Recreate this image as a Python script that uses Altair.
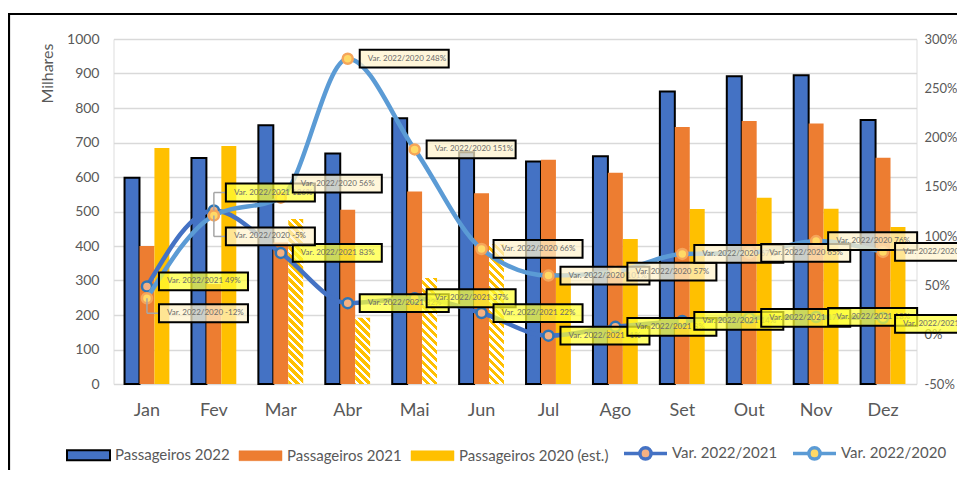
import math
import altair as alt

# ---------------- data ----------------
months = ["Jan", "Fev", "Mar", "Abr", "Mai", "Jun", "Jul", "Ago", "Set", "Out", "Nov", "Dez"]
pax_2022 = [598, 655, 750, 668, 770, 672, 645, 660, 848, 892, 895, 765]
pax_2021 = [400, 290, 410, 505, 558, 553, 650, 612, 745, 762, 755, 656]
pax_2020 = [684, 690, 478, 192, 307, 405, 321, 420, 507, 540, 508, 455]
est_2020 = [False, False, True, True, True, True, False, False, False, False, False, False]
var_22_21 = [0.49, 1.26, 0.83, 0.32, 0.37, 0.22, -0.01, 0.08, 0.14, 0.17, 0.18, 0.17]
var_22_20_plot = [0.37, 1.21, 1.39, 2.80, 1.88, 0.87, 0.60, 0.64, 0.82, 0.83, 0.95, 0.84]
var_22_20_label = [-12, -5, 56, 248, 151, 66, 101, 57, 67, 65, 76, 68]
series_names = ["Passageiros 2022", "Passageiros 2021", "Passageiros 2020 (est.)",
                "Var. 2022/2021", "Var. 2022/2020"]
left_ticks = list(range(0, 1001, 100))
right_ticks = [-0.5, 0.0, 0.5, 1.0, 1.5, 2.0, 2.5, 3.0]

# ---------------- layout / style ----------------
FONT = "Lato"
GRAY = "#595959"
W, H = 803, 345
PAD = {"left": 105.5, "top": 31, "right": 40.5, "bottom": 86}
BLUE, ORANGE, YELLOW, LBLUE = "#4472C4", "#ED7D31", "#FFC000", "#5B9BD5"
PX_PER_UNIT_RIGHT = H / 3.5
PX_PER_UNIT_LEFT = H / 1000.0
lab_dy_21 = [-5, -18, 0, 0, 0, 0, 0, 0, 0, 0, 0, 6]
lab_dy_20 = [15, 21, -14, 0, 0, 0, 0, 0, 0, 0, 0, 0]
leaders = [("Jan", "20"), ("Fev", "21"), ("Fev", "20")]

BOX_PATH = "M0.27,-0.2H2.27V0.2H0.27Z"
BOX_SIZE = 89 ** 2
LEAD_PATH = "M0,0H0.27"

x_scale = alt.Scale(domain=months, paddingInner=0.33, paddingOuter=0.165)
x_axis = alt.Axis(title=None, labelFont=FONT, labelFontSize=18, labelColor=GRAY,
                  labelPadding=17, ticks=False, domain=False, labelAngle=0)
X = alt.X("month:N", scale=x_scale, axis=x_axis)

left_scale = alt.Scale(domain=[0, 1000], nice=False, zero=False)
left_axis = alt.Axis(title="Milhares", titleFont=FONT, titleFontSize=16, titleFontWeight="normal",
                     titleColor=GRAY, titleAngle=270, titleAlign="right", titleBaseline="bottom",
                     titleX=-58, titleY=4, values=left_ticks, format="d",
                     labelFont=FONT, labelFontSize=14, labelColor=GRAY, labelPadding=14.5,
                     ticks=False, domain=False, grid=True, gridColor="#D9D9D9", gridWidth=1.3)
right_scale = alt.Scale(domain=[-0.5, 3.0], nice=False, zero=False)
right_axis = alt.Axis(title=None, orient="right", values=right_ticks,
                      labelExpr="round(datum.value*100) + '%'",
                      labelFont=FONT, labelFontSize=13, labelColor=GRAY, labelPadding=7.5,
                      ticks=False, domain=False, grid=False)


def hatch(value):
    w = W / 12 * (1 - 0.33) / 3
    h = value * PX_PER_UNIT_LEFT
    s = (w + h) * h / (h * h + w * w)
    period = 8.0
    n = int(math.ceil((w + h) / period))
    stops = []
    for k in range(n):
        a = min(k * period / (w + h), 1)
        b = min((k + 0.55) * period / (w + h), 1)
        c = min((k + 1) * period / (w + h), 1)
        stops += [{"offset": a, "color": YELLOW}, {"offset": b, "color": YELLOW},
                  {"offset": b, "color": "#FFFFFF"}, {"offset": c, "color": "#FFFFFF"}]
    return {"gradient": "linear", "x1": 1, "y1": 0, "x2": 1 - s * w / h, "y2": s, "stops": stops}


bar_records = []
for i, m in enumerate(months):
    bar_records.append({"month": m, "series": "p22", "value": pax_2022[i],
                        "barfill": BLUE, "barstroke": "#000000"})
    bar_records.append({"month": m, "series": "p21", "value": pax_2021[i],
                        "barfill": ORANGE, "barstroke": "transparent"})
    bar_records.append({"month": m, "series": "p20", "value": pax_2020[i],
                        "barfill": hatch(pax_2020[i]) if est_2020[i] else YELLOW,
                        "barstroke": "transparent"})

bars = alt.Chart(alt.Data(values=bar_records)).mark_bar(strokeWidth=2).encode(
    x=X,
    xOffset=alt.XOffset("series:N", scale=alt.Scale(domain=["p22", "p21", "p20"],
                                                    paddingInner=0, paddingOuter=0)),
    y=alt.Y("value:Q", stack=None, scale=left_scale, axis=left_axis),
    fill=alt.Fill("barfill:N", scale=None),
    stroke=alt.Stroke("barstroke:N", scale=None),
)

line_records = [{"month": m, "var21": var_22_21[i], "var20": var_22_20_plot[i]}
                for i, m in enumerate(months)]
ldata = alt.Data(values=line_records)


def YR(field):
    return alt.Y(field, scale=right_scale, axis=right_axis)


line21 = alt.Chart(ldata).mark_line(color=BLUE, strokeWidth=4.5, interpolate="monotone").encode(
    x=X, y=YR("var21:Q"))
pts21 = alt.Chart(ldata).mark_point(filled=True, size=100, fill="#F4B183", stroke="#2E75B6",
                                    strokeWidth=2.5, opacity=1).encode(x=X, y=YR("var21:Q"))
line20 = alt.Chart(ldata).mark_line(color=LBLUE, strokeWidth=4.5, interpolate="monotone").encode(
    x=X, y=YR("var20:Q"))
pts20 = alt.Chart(ldata).mark_point(filled=True, size=100, fill="#FFD966", stroke="#F5A55A",
                                    strokeWidth=2.5, opacity=1).encode(x=X, y=YR("var20:Q"))

labels = []
for i, m in enumerate(months):
    labels.append({"month": m, "ser": "21", "pt": var_22_21[i],
                   "pos": var_22_21[i] - lab_dy_21[i] / PX_PER_UNIT_RIGHT,
                   "text": "Var. 2022/2021 %d%%" % round(var_22_21[i] * 100)})
for i, m in enumerate(months):
    labels.append({"month": m, "ser": "20", "pt": var_22_20_plot[i],
                   "pos": var_22_20_plot[i] - lab_dy_20[i] / PX_PER_UNIT_RIGHT,
                   "text": "Var. 2022/2020 %d%%" % var_22_20_label[i]})

lead_recs = [r for r in labels if (r["month"], r["ser"]) in leaders]
lead_v = alt.Chart(alt.Data(values=lead_recs)).mark_rule(color="#A6A6A6", strokeWidth=1.5).encode(
    x=X, y=YR("pt:Q"), y2="pos:Q")
lead_h = alt.Chart(alt.Data(values=lead_recs)).mark_point(
    shape=LEAD_PATH, size=BOX_SIZE, filled=False, stroke="#A6A6A6", strokeWidth=1.5, opacity=1
).encode(x=X, y=YR("pos:Q"))

label_layers = []
for r in labels:
    d = alt.Data(values=[r])
    fill = "#FFFF33" if r["ser"] == "21" else "#FFF2CC"
    box = alt.Chart(d).mark_point(shape=BOX_PATH, size=BOX_SIZE, filled=True, fill=fill,
                                  fillOpacity=0.72, stroke="#000000", strokeWidth=2,
                                  strokeOpacity=1, opacity=1).encode(x=X, y=YR("pos:Q"))
    txt = alt.Chart(d).mark_text(align="left", baseline="middle", dx=20, font=FONT, fontSize=8,
                                 color="#6B6B6B").encode(x=X, y=YR("pos:Q"), text="text:N")
    label_layers += [box, txt]

inner = alt.layer(line21, pts21, line20, pts20, lead_v, lead_h, *label_layers)

frame = alt.Chart(alt.Data(values=[{"a": 1}])).mark_rect(
    fill="transparent", stroke="#000000", strokeWidth=2.2).encode(
    x=alt.value(-104.5), x2=alt.value(W + 120), y=alt.value(-25), y2=alt.value(H + 200))

is_line = "(datum.value == 'Var. 2022/2021' || datum.value == 'Var. 2022/2020')"
RECT_PATH = "M-1,-0.23H1V0.23H-1Z"
LINE_PATH = ("M-1,0H-0.26M0.26,0H1M0.26,0A0.26,0.26,0,1,1,-0.26,0"
             "A0.26,0.26,0,1,1,0.26,0Z")
legend = alt.Legend(
    orient="none", legendX=-32.5, legendY=406.5, direction="horizontal", columns=5,
    title=None, labelFont=FONT, labelFontSize=15, labelColor=GRAY,
    columnPadding=8, labelOffset=19, symbolSize=1849, symbolOpacity=1,
    symbolType=alt.ExprRef(expr=f"{is_line} ? '{LINE_PATH}' : '{RECT_PATH}'"),
    symbolStrokeColor=alt.ExprRef(expr=(
        "datum.value == 'Passageiros 2022' ? '#000000' : "
        f"datum.value == 'Passageiros 2021' ? '{ORANGE}' : "
        f"datum.value == 'Passageiros 2020 (est.)' ? '{YELLOW}' : "
        f"datum.value == 'Var. 2022/2021' ? '{BLUE}' : '{LBLUE}'")),
    symbolStrokeWidth=alt.ExprRef(expr=(
        f"datum.value == 'Passageiros 2022' ? 2 : {is_line} ? 3.5 : 0.5")),
)
legend_layer = alt.Chart(alt.Data(values=[{"name": n} for n in series_names])).mark_point(
    filled=True, opacity=0).encode(
    color=alt.Color("name:N", scale=alt.Scale(domain=series_names,
                                              range=[BLUE, ORANGE, YELLOW, "#F4B183", "#FFD966"]),
                    legend=legend))

chart = alt.layer(frame, bars, inner, legend_layer).resolve_scale(y="independent").properties(
    width=W, height=H, autosize=alt.AutoSizeParams(type="none"), padding=PAD,
).configure_view(strokeWidth=0).configure(font=FONT)

chart.save("out.html", embed_options={"renderer": "svg", "actions": False})
